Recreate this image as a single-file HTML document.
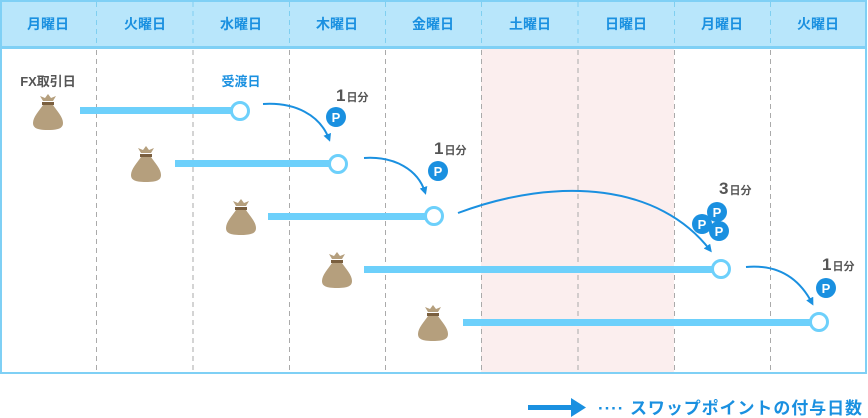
<!DOCTYPE html>
<html><head><meta charset="utf-8"><style>
html,body{margin:0;padding:0;background:#fff;}
svg{display:block}
text{font-family:"Liberation Sans","Noto Sans CJK JP",sans-serif;font-weight:bold}
</style></head><body>
<svg width="868" height="418" viewBox="0 0 868 418" xmlns="http://www.w3.org/2000/svg">
<defs>
<g id="bag">
<path d="M-5,-16 L-8,-21 L-3,-19 L0,-23 L3,-19 L8,-21 L5,-16 Z" fill="#b59f7d"/>
<rect x="-6" y="-15" width="12" height="3" fill="#7a5f3f"/>
<path d="M-5,-12 C-9,-6 -15,0 -15,6 C-15,11 -11,13 0,13 C11,13 15,11 15,6 C15,0 9,-6 5,-12 Z" fill="#b59f7d"/>
</g>
<g id="p"><circle r="10" fill="#1a90e0"/><text x="0" y="5" font-size="13" fill="#fff" text-anchor="middle">P</text></g>
<marker id="ah" markerWidth="8" markerHeight="8" refX="5" refY="4" orient="auto" markerUnits="userSpaceOnUse"><path d="M0,0 L8,4 L0,8 Z" fill="#1a90e0"/></marker>
</defs>
<rect x="1" y="1" width="865" height="372" fill="#fff" stroke="#7fd0f5" stroke-width="2"/>
<rect x="481" y="48" width="193" height="324" fill="#fbeeee"/>
<rect x="2" y="2" width="863" height="45" fill="#b8e6fb"/>
<line x1="1" y1="47.5" x2="866" y2="47.5" stroke="#7fd0f5" stroke-width="3"/>
<g stroke-dasharray="5,4" stroke-width="1">
<g stroke="#7fcff0">
<line x1="96.5" y1="2" x2="96.5" y2="46"/><line x1="193" y1="2" x2="193" y2="46"/><line x1="289.5" y1="2" x2="289.5" y2="46"/><line x1="385.5" y1="2" x2="385.5" y2="46"/><line x1="481.5" y1="2" x2="481.5" y2="46"/><line x1="578" y1="2" x2="578" y2="46"/><line x1="674.5" y1="2" x2="674.5" y2="46"/><line x1="770.5" y1="2" x2="770.5" y2="46"/>
</g>
<g stroke="#aaa">
<line x1="96.5" y1="50" x2="96.5" y2="372"/><line x1="193" y1="50" x2="193" y2="372"/><line x1="289.5" y1="50" x2="289.5" y2="372"/><line x1="385.5" y1="50" x2="385.5" y2="372"/><line x1="481.5" y1="50" x2="481.5" y2="372"/><line x1="578" y1="50" x2="578" y2="372"/><line x1="674.5" y1="50" x2="674.5" y2="372"/><line x1="770.5" y1="50" x2="770.5" y2="372"/>
</g></g>
<g font-size="14" fill="#1a90e0" text-anchor="middle">
<text x="48" y="29">月曜日</text><text x="145" y="29">火曜日</text><text x="241" y="29">水曜日</text><text x="337" y="29">木曜日</text><text x="433" y="29">金曜日</text><text x="530" y="29">土曜日</text><text x="626" y="29">日曜日</text><text x="722" y="29">月曜日</text><text x="818" y="29">火曜日</text>
</g>
<text x="48" y="86" font-size="13" fill="#555" text-anchor="middle">FX取引日</text>
<text x="241" y="86" font-size="13" fill="#1a90e0" text-anchor="middle">受渡日</text>
<g fill="#6dd0fb">
<rect x="80" y="107" width="155" height="7"/>
<rect x="175" y="160" width="158" height="7"/>
<rect x="268" y="213" width="161" height="7"/>
<rect x="364" y="266" width="353" height="7"/>
<rect x="463" y="319" width="352" height="7"/>
</g>
<g fill="#fff" stroke="#6dd0fb" stroke-width="3">
<circle cx="240" cy="111" r="8.5"/><circle cx="338" cy="164" r="8.5"/><circle cx="434" cy="216" r="8.5"/><circle cx="721" cy="269" r="8.5"/><circle cx="819" cy="322" r="8.5"/>
</g>
<use href="#bag" x="48" y="117"/><use href="#bag" x="146" y="169"/><use href="#bag" x="241" y="222"/><use href="#bag" x="337" y="275"/><use href="#bag" x="433" y="328"/>
<g fill="none" stroke="#1a90e0" stroke-width="2" marker-end="url(#ah)">
<path d="M263,104 C295,102 320,115 329,139"/>
<path d="M364,158 C395,156 418,170 425,192"/>
<path d="M458,213 C560,175 660,185 710,250"/>
<path d="M746,267 C780,264 800,280 812,303"/>
</g>
<use href="#p" x="336" y="117"/><use href="#p" x="438" y="171"/>
<use href="#p" x="717" y="212"/><use href="#p" x="702" y="224"/><use href="#p" x="719" y="231"/>
<use href="#p" x="826" y="288"/>
<g fill="#555">
<text x="336" y="101" font-size="17">1<tspan font-size="11" dx="1">日分</tspan></text>
<text x="434" y="154" font-size="17">1<tspan font-size="11" dx="1">日分</tspan></text>
<text x="719" y="194" font-size="17">3<tspan font-size="11" dx="1">日分</tspan></text>
<text x="822" y="270" font-size="17">1<tspan font-size="11" dx="1">日分</tspan></text>
</g>
<rect x="528" y="405" width="45" height="5" fill="#1a90e0"/>
<path d="M571,398 L586,407.5 L571,417 Z" fill="#1a90e0"/>
<text x="598" y="414" font-size="17" fill="#1a90e0" textLength="264" lengthAdjust="spacing">····  スワップポイントの付与日数</text>
</svg>
</body></html>
